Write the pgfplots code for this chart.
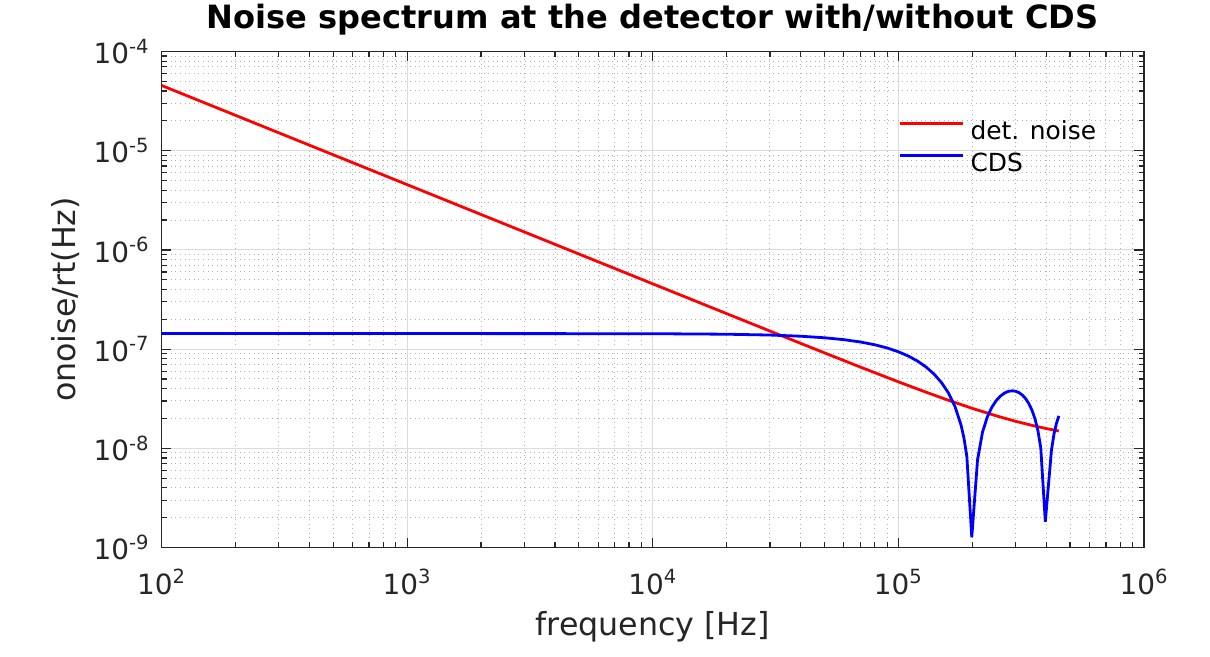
\documentclass[border=0pt]{standalone}
\usepackage{fontspec}
\setmainfont{DejaVu Sans}
\usepackage{pgfplots}
\pgfplotsset{compat=1.18}
\definecolor{axgray}{rgb}{0.15,0.15,0.15}

\begin{document}
\begin{tikzpicture}
\begin{axis}[
    name=ax,
    scale only axis,
    width=491.25bp, height=248bp,
    xmode=log, ymode=log,
    xmin=1e2, xmax=1e6,
    ymin=1e-9, ymax=1e-4,
    grid=both,
    major grid style={line width=0.5bp, black!14},
    minor grid style={line width=0.5bp, black!30, dash pattern=on 0.5bp off 1.8bp},
    axis line style={axgray, line width=0.6bp},
    every tick/.style={axgray, line width=0.6bp},
    major tick length=5bp, minor tick length=2.75bp,
    tick label style={font=\fontsize{14}{16}\selectfont, text=axgray},
    xticklabel={\pgfmathparse{int(round(\tick/ln(10)))}10\textsuperscript{\pgfmathresult}},
    yticklabel={\pgfmathparse{int(round(\tick/ln(10)))}10\textsuperscript{\pgfmathresult}},
    xticklabel style={anchor=base, yshift=-23.25bp, inner sep=0pt},
    yticklabel style={anchor=east, xshift=-5.75bp, inner sep=0pt},
    title={Noise spectrum at the detector with/without CDS},
    title style={at={(axis description cs:0.5,1.0232)}, anchor=base, inner sep=0pt,
        font=\bfseries\fontsize{16.1}{18}\selectfont},
    xlabel={frequency [Hz]},
    xlabel style={at={(axis description cs:0.5,-0.1764)}, anchor=base, inner sep=0pt,
        font=\fontsize{15.9}{18}\selectfont, text=axgray},
    ylabel={onoise/rt(Hz)},
    ylabel style={at={(axis description cs:-0.088,0.5)}, rotate=0, anchor=base, inner sep=0pt,
        font=\fontsize{15.9}{18}\selectfont, text=axgray},
    legend style={at={(axis description cs:0.7496,0.8613)}, anchor=north west,
        draw=none, fill=none, inner sep=0pt, row sep=4bp,
        font=\fontsize{12.5}{14}\selectfont,
        nodes={inner sep=0pt, text height=9.5bp, text depth=2.5bp}},
    legend cell align=left,
    legend image code/.code={\draw[#1, line width=1.4bp] (0bp,4.7bp) -- (31.5bp,4.7bp);},
    /tikz/every odd column/.append style={column sep=3.2bp},
]
% detector noise
\addplot[red, line width=1.4bp] coordinates {
(100,4.55e-5) (1000,4.55e-6) (10000,4.551e-7) (20000,2.278e-7)
(30000,1.521e-7) (50000,9.166e-8) (70000,6.592e-8) (100000,4.681e-8)
(130000,3.669e-8) (160000,3.049e-8) (200000,2.527e-8) (250000,2.127e-8)
(300000,1.873e-8) (350000,1.703e-8) (400000,1.582e-8) (450000,1.494e-8)
};
\addlegendentry{det. noise}
% after CDS
\addplot[blue, line width=1.4bp] coordinates {
(100,1.435e-7) (1000,1.435e-7) (10000,1.430e-7) (20000,1.413e-7)
(30000,1.386e-7) (40000,1.349e-7) (50000,1.301e-7) (60000,1.245e-7)
(70000,1.180e-7) (80000,1.107e-7) (90000,1.027e-7) (100000,9.40e-8)
(110000,8.49e-8) (120000,7.54e-8) (130000,6.56e-8) (140000,5.57e-8)
(150000,4.58e-8) (160000,3.60e-8) (170000,2.64e-8) (180000,1.711e-8)
(185000,1.263e-8) (190000,8.28e-9) (199000,1.27e-9) (210000,7.63e-9)
(220000,1.454e-8) (230000,2.063e-8) (240000,2.587e-8) (250000,3.020e-8)
(260000,3.357e-8) (270000,3.600e-8) (280000,3.747e-8) (290000,3.800e-8)
(300000,3.761e-8) (310000,3.637e-8) (320000,3.434e-8) (330000,3.155e-8)
(340000,2.814e-8) (350000,2.418e-8) (360000,1.977e-8) (370000,1.504e-8)
(380000,1.009e-8) (396500,1.82e-9) (420000,9.58e-9) (430000,1.392e-8)
(440000,1.782e-8) (450000,2.121e-8)
};
\addlegendentry{CDS}
\end{axis}
\pgfresetboundingbox
\path ([shift={(-80.75bp,-54.75bp)}]ax.south west) rectangle ([shift={(33bp,25.75bp)}]ax.north east);
\end{tikzpicture}
\end{document}
